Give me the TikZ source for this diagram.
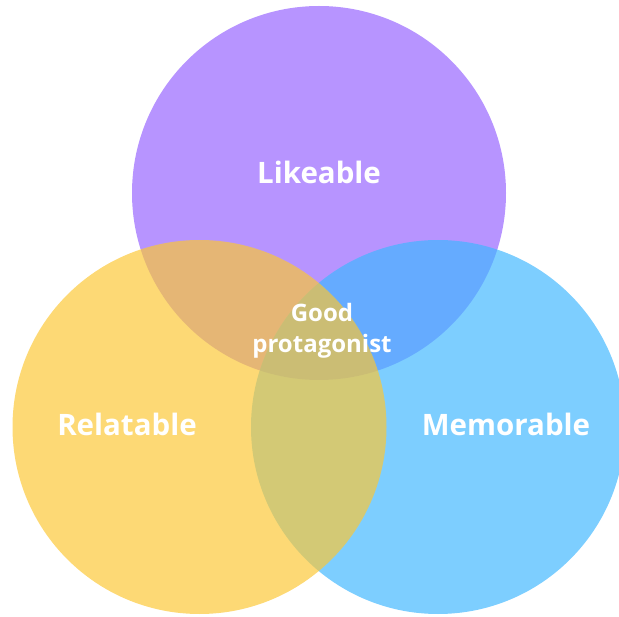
\documentclass[tikz,border=0pt]{standalone}
\usepackage{fontspec}
\setmainfont{Open Sans}
\definecolor{lpurple}{RGB}{149,98,255}
\definecolor{lblue}{RGB}{64,183,255}
\definecolor{lyellow}{RGB}{252,199,52}
\tikzset{
  disc/.style={circle,inner sep=0pt,minimum size=374pt,fill opacity=0.68},
  lbl/.style={anchor=base,text=white,font=\bfseries\fontsize{29.5}{35}\selectfont},
}
\begin{document}
\begin{tikzpicture}[x=1pt,y=-1pt]
    \useasboundingbox (0,0) rectangle (619,617);
    \def\cs{319/193/likeable/lpurple,438/427/memorable/lblue,199.5/427/relatable/lyellow}
    %       top               right              left
    \foreach \x/\y/\n/\f in \cs {\node[disc,fill=\f] (\n) at (\x,\y) {};}
    \node[lbl] (tlike) at (319,184) {Likeable};
    \node[lbl] (trel) at (127,436) {Relatable};
    \node[lbl] (tmem) at (506,436) {Memorable};
    \node[lbl,align=center,font=\bfseries\fontsize{24}{31}\selectfont] (tgood) at (322,353) {Good\\protagonist};
  \end{tikzpicture}
\end{document}
